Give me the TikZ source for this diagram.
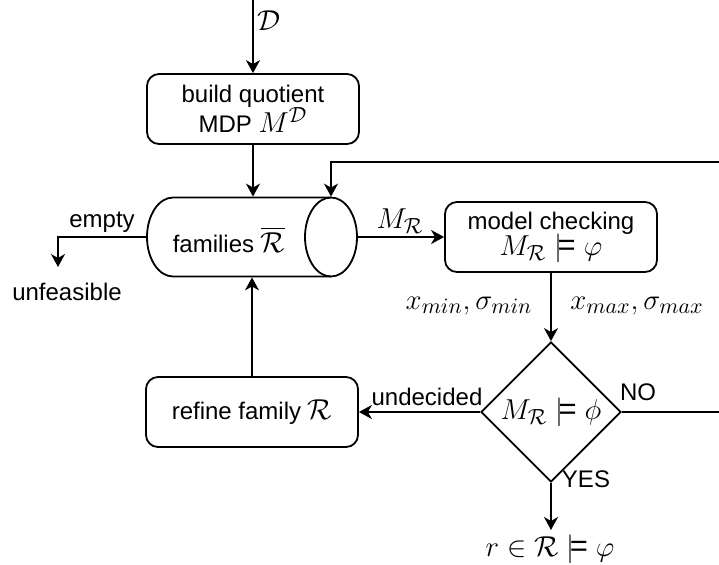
\documentclass[tikz,border=0pt]{standalone}
\usepackage{amsmath, amssymb}
\usepackage{fontspec}
\setmainfont{Liberation Sans}
\usepackage{tikz}
\usetikzlibrary{shapes.geometric,arrows.meta,calc}
\newcommand{\mth}[1]{{\fontsize{15.5}{18}\selectfont$#1$}}

\begin{document}
\begin{tikzpicture}[x=0.5pt, y=-0.5pt, line width=0.9pt, font=\fontsize{12}{14}\selectfont,
    box/.style={draw, rounded corners=6pt, minimum width=106pt, minimum height=35pt, align=center, inner sep=2pt},
    arr/.style={-{Stealth[length=6.5pt, width=7pt, inset=2pt]}}]
    \path[use as bounding box] (0,0) rectangle (719,564);
    \clip (0,0) rectangle (719,564);

    \node[box] (build) at (253,109) {build quotient\\[-1pt]MDP \mth{M^{\mathcal{D}}}};
    \node[minimum width=105pt, minimum height=39.5pt, inner sep=0pt] (fam) at (252,237) {};
    \draw (331,197.5) -- (173,197.5) arc[start angle=270, end angle=90, x radius=26, y radius=39.5] -- (331,276.5);
    \draw (331,237) ellipse [x radius=26, y radius=39.5];
    \node (famtext) at (229,240) {families \mth{\overline{\mathcal{R}}}};
    \node[box] (check) at (551,237) {model checking\\[-1pt]\mth{M_{\mathcal{R}} \models \varphi}};
    \node[draw, diamond, minimum width=70pt, minimum height=70pt, inner sep=0pt] (decide) at (551,412) {\mth{M_{\mathcal{R}} \models \phi}};
    \node[box] (refine) at (252,412) {refine family \mth{\mathcal{R}}};

    \coordinate (src) at (253,0);
    \coordinate (fail) at (58,267);
    \coordinate (goal) at (551,530);
    \coordinate (fbdrop) at (331,162);

    \draw[arr] (src) -- (build.north);
    \draw[arr] (build.south) -- (build.south |- fam.north);
    \draw[arr] (fam.west) -| (fail);
    \draw[arr] (fam.east) -- (check.west);
    \draw[arr] (check.south) -- (decide.north);
    \draw[arr] (decide.west) -- (refine.east);
    \draw[arr] (refine.north) -- (refine.north |- fam.south);
    \draw[arr] (decide.south) -- (goal);
    \draw[arr] (decide.east) -- (780,412) |- (fbdrop) -- (fbdrop |- fam.north);

    \node (dlabel) at (269,21) {\mth{\mathcal{D}}};
    \node (empty) at (102,222) {empty};
    \node (unfeas) at (67,292) {unfeasible};
    \node (mrlabel) at (400,221) {\mth{M_{\mathcal{R}}}};
    \node (minlabel) at (469,306) {\mth{x_{min}, \sigma_{min}}};
    \node (maxlabel) at (637,306) {\mth{x_{max}, \sigma_{max}}};
    \node (undec) at (427,397) {undecided};
    \node (nolabel) at (638,392) {NO};
    \node (yeslabel) at (586,479) {YES};
    \node (result) at (550,549) {\mth{r \in \mathcal{R} \models \varphi}};
\end{tikzpicture}
\end{document}
